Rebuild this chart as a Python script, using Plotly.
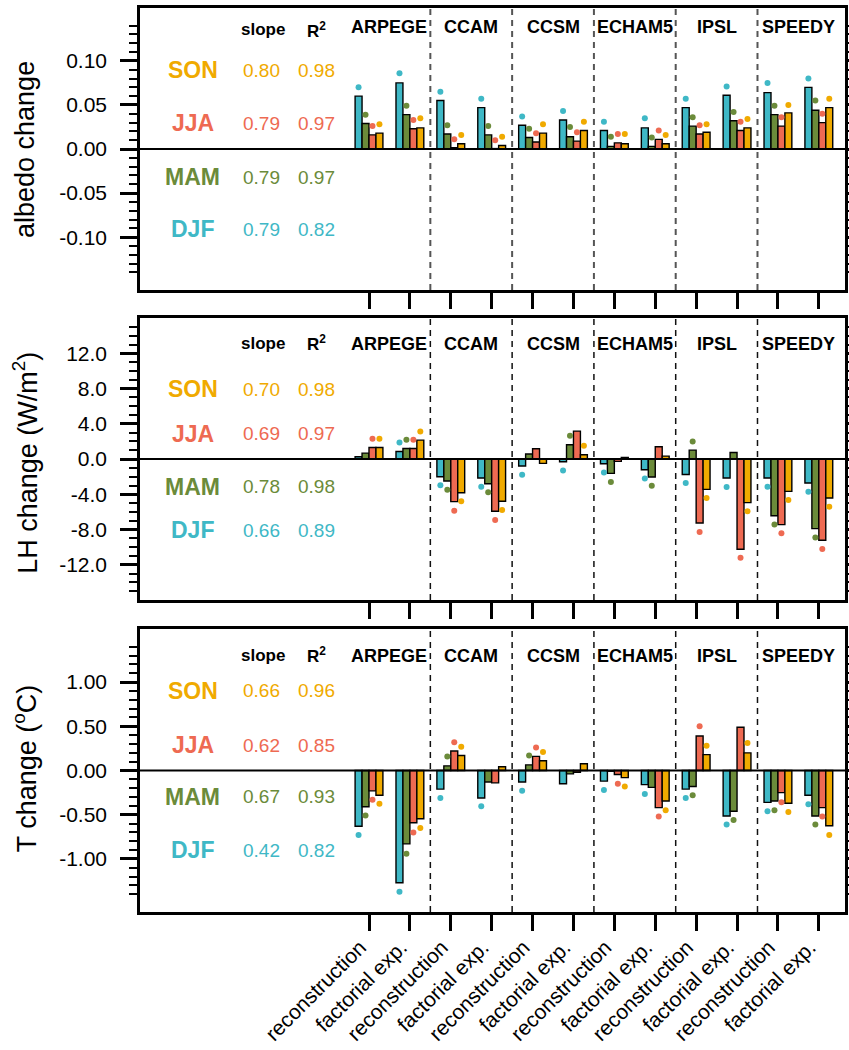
import numpy as np
import plotly.graph_objects as go

# ---------------- data ----------------
models = ["ARPEGE", "CCAM", "CCSM", "ECHAM5", "IPSL", "SPEEDY"]
exp_labels = ["reconstruction", "factorial exp."]
seasons = ["DJF", "MAM", "JJA", "SON"]
season_colors = ["#3FB8C6", "#6B8B3A", "#EE6A52", "#F0AA00"]

# order of 12 groups: ARPEGE rec, ARPEGE fac, CCAM rec, CCAM fac, ...
albedo_bars = {
    "DJF": [0.060, 0.075, 0.055, 0.047, 0.027, 0.033, 0.021, 0.024, 0.047, 0.061, 0.064, 0.070],
    "MAM": [0.029, 0.039, 0.017, 0.016, 0.013, 0.014, 0.003, 0.003, 0.026, 0.032, 0.039, 0.044],
    "JJA": [0.016, 0.023, 0.0015, 0.0005, 0.008, 0.009, 0.007, 0.011, 0.017, 0.021, 0.026, 0.030],
    "SON": [0.018, 0.024, 0.006, 0.004, 0.018, 0.021, 0.006, 0.006, 0.019, 0.024, 0.041, 0.047],
}
albedo_dots = {
    "DJF": [0.070, 0.086, 0.065, 0.057, 0.037, 0.043, 0.031, 0.035, 0.057, 0.071, 0.075, 0.080],
    "MAM": [0.039, 0.049, 0.027, 0.026, 0.023, 0.025, 0.014, 0.013, 0.036, 0.042, 0.049, 0.055],
    "JJA": [0.026, 0.033, 0.011, 0.010, 0.018, 0.019, 0.017, 0.021, 0.027, 0.031, 0.036, 0.040],
    "SON": [0.028, 0.035, 0.016, 0.014, 0.028, 0.031, 0.017, 0.016, 0.028, 0.034, 0.050, 0.057],
}
lh_bars = {
    "DJF": [0.26, 0.87, -2.00, -2.15, -0.79, -0.30, -0.53, -1.21, -1.74, -2.15, -2.15, -2.72],
    "MAM": [0.68, 1.21, -2.49, -2.79, 0.57, 1.62, -1.62, -2.04, 1.02, 0.75, -6.42, -7.89],
    "JJA": [1.32, 1.21, -4.83, -5.92, 1.17, 3.17, -0.26, 1.40, -7.25, -10.23, -7.43, -9.21],
    "SON": [1.32, 2.15, -3.81, -4.79, -0.49, 0.49, 0.19, 0.34, -3.43, -4.94, -3.66, -4.42],
}
lh_dots = {
    "DJF": [None, 1.89, -2.98, -3.13, -1.77, -1.28, -1.51, -2.19, -2.72, -3.17, -3.13, -3.70],
    "MAM": [None, 2.19, -3.47, -3.77, None, 2.64, -2.60, -3.02, 2.00, None, -7.43, -8.90],
    "JJA": [2.30, 2.19, -5.85, -6.90, None, None, None, None, -8.26, -11.20, -8.42, -10.19],
    "SON": [2.30, 3.13, -4.79, -5.77, None, 1.51, None, None, -4.42, -5.92, -4.64, -5.40],
}
t_bars = {
    "DJF": [-0.63, -1.27, -0.21, -0.31, -0.13, -0.15, -0.12, -0.16, -0.21, -0.515, -0.36, -0.28],
    "MAM": [-0.41, -0.83, 0.053, -0.13, 0.064, -0.038, -0.008, -0.19, -0.18, -0.46, -0.345, -0.515],
    "JJA": [-0.23, -0.59, 0.22, -0.14, 0.16, -0.019, -0.045, -0.42, 0.39, 0.49, -0.25, -0.42],
    "SON": [-0.28, -0.545, 0.17, 0.042, 0.11, 0.076, -0.08, -0.345, 0.18, 0.20, -0.37, -0.625],
}
t_dots = {
    "DJF": [-0.73, -1.37, -0.31, -0.405, -0.23, None, -0.22, -0.265, -0.31, -0.61, -0.46, -0.38],
    "MAM": [-0.51, -0.94, 0.16, None, 0.17, None, None, None, -0.28, -0.56, -0.45, -0.61],
    "JJA": [-0.33, -0.70, 0.32, None, 0.26, None, -0.15, -0.52, 0.50, None, -0.36, -0.52],
    "SON": [-0.375, -0.65, 0.27, None, 0.21, None, -0.18, -0.45, 0.28, 0.31, -0.47, -0.73],
}

albedo_slope = {"SON": "0.80", "JJA": "0.79", "MAM": "0.79", "DJF": "0.79"}
albedo_r2 = {"SON": "0.98", "JJA": "0.97", "MAM": "0.97", "DJF": "0.82"}
lh_slope = {"SON": "0.70", "JJA": "0.69", "MAM": "0.78", "DJF": "0.66"}
lh_r2 = {"SON": "0.98", "JJA": "0.97", "MAM": "0.98", "DJF": "0.89"}
t_slope = {"SON": "0.66", "JJA": "0.62", "MAM": "0.67", "DJF": "0.42"}
t_r2 = {"SON": "0.96", "JJA": "0.85", "MAM": "0.93", "DJF": "0.82"}

# ---------------- figure ----------------
FONT = "Liberation Sans, Arial, Helvetica, sans-serif"
n_groups = len(models) * len(exp_labels)
group_x = np.arange(n_groups)
tick_text = [exp_labels[i % 2] for i in range(n_groups)]
bar_w = 0.17

panels = [
    dict(bars=albedo_bars, dots=albedo_dots, slope=albedo_slope, r2=albedo_r2,
         title="albedo change", rng=[-0.16, 0.16], major=[-0.10, -0.05, 0.0, 0.05, 0.10],
         fmt="{:.2f}", minor=np.round(np.arange(-14, 15) * 0.01, 2).tolist(),
         domain=[0.688, 1.0], sep_color="#555555", sep_w=2.0,
         ty=dict(head=0.922, model=0.934, SON=0.78, JJA=0.592, MAM=0.40, DJF=0.216),
         title_y=0.843),
    dict(bars=lh_bars, dots=lh_dots, slope=lh_slope, r2=lh_r2,
         title="LH change (W/m<sup>2</sup>)", rng=[-16, 16], major=[-12, -8, -4, 0, 4, 8, 12],
         fmt="{:.1f}", minor=list(range(-15, 16)),
         domain=[0.345, 0.657], sep_color="#111111", sep_w=1.5,
         ty=dict(head=0.91, model=0.908, SON=0.748, JJA=0.589, MAM=0.402, DJF=0.248),
         title_y=0.497),
    dict(bars=t_bars, dots=t_dots, slope=t_slope, r2=t_r2,
         title="T change (<sup>o</sup>C)", rng=[-1.6, 1.6], major=[-1.0, -0.5, 0.0, 0.5, 1.0],
         fmt="{:.2f}", minor=np.round(np.arange(-14, 15) * 0.1, 1).tolist(),
         domain=[0.0, 0.313], sep_color="#111111", sep_w=1.5,
         ty=dict(head=0.908, model=0.905, SON=0.782, JJA=0.59, MAM=0.407, DJF=0.219),
         title_y=0.159),
]

fig = go.Figure()
annotations = []
shapes = []


def ann(**kw):
    base = dict(showarrow=False, xanchor="center", yanchor="middle")
    base.update(kw)
    annotations.append(base)


for p_i, p in enumerate(panels):
    k = "" if p_i == 0 else str(p_i + 1)
    xref, yref = "x" + k, "y" + k
    for s_i, s in enumerate(seasons):
        off = (s_i - 1.5) * bar_w
        fig.add_trace(go.Bar(
            x=group_x + off, y=p["bars"][s], width=bar_w,
            marker=dict(color=season_colors[s_i], line=dict(color="black", width=1.4)),
            xaxis=xref, yaxis=yref, showlegend=False, name=s))
    for s_i, s in enumerate(seasons):
        off = (s_i - 1.5) * bar_w
        fig.add_trace(go.Scatter(
            x=group_x + off, y=p["dots"][s], mode="markers",
            marker=dict(color=season_colors[s_i], size=6),
            xaxis=xref, yaxis=yref, showlegend=False, name=s))

    axis_common = dict(showline=True, linewidth=2.5, linecolor="black", showgrid=False,
                       zeroline=False, automargin=False)
    fig.layout["xaxis" + k] = dict(
        **axis_common, domain=[0, 1], anchor=yref, range=[-5.6, 11.64],
        tickmode="array", tickvals=group_x.tolist(), ticktext=tick_text,
        ticks="outside", ticklen=16, tickwidth=2.5, tickcolor="black",
        showticklabels=(p_i == 2), tickangle=-45,
        ticklabelshift=-9, ticklabelstandoff=-4,
        tickfont=dict(family=FONT, size=21, color="black"), mirror=True)
    fig.layout["yaxis" + k] = dict(
        **axis_common, domain=p["domain"], anchor=xref, range=p["rng"],
        tickmode="array", tickvals=p["major"], ticktext=[p["fmt"].format(v) for v in p["major"]],
        ticks="outside", ticklen=17, tickwidth=2.5, tickcolor="black",
        tickfont=dict(family=FONT, size=21, color="black"), mirror="allticks",
        ticklabelstandoff=9,
        minor=dict(tickmode="array", tickvals=p["minor"], ticks="outside",
                   ticklen=8, tickwidth=1.8, tickcolor="black"))

    # zero line
    shapes.append(dict(type="line", xref=xref + " domain", yref=yref, x0=0, x1=1, y0=0, y1=0,
                       line=dict(color="black", width=2)))
    # model separators
    for m in range(1, len(models)):
        shapes.append(dict(type="line", xref=xref, yref=yref + " domain",
                           x0=2 * m - 0.5, x1=2 * m - 0.5, y0=0, y1=1,
                           line=dict(color=p["sep_color"], width=p["sep_w"], dash="6px,5px")))
    # model names
    for m_i, m in enumerate(models):
        ann(text="<b>%s</b>" % m, x=2 * m_i + 0.5, xref=xref,
            y=p["ty"]["model"], yref=yref + " domain",
            font=dict(family=FONT, size=18, color="black"))
    # stats table
    ann(text="<b>slope</b>", x=0.175, xref=xref + " domain",
        y=p["ty"]["head"], yref=yref + " domain",
        font=dict(family=FONT, size=17, color="black"))
    ann(text="<b>R<sup>2</sup></b>", x=0.25, xref=xref + " domain",
        y=p["ty"]["head"], yref=yref + " domain",
        font=dict(family=FONT, size=17, color="black"))
    for s_i, s in enumerate(seasons):
        col = season_colors[s_i]
        yy = p["ty"][s]
        ann(text="<b>%s</b>" % s, x=0.075, xref=xref + " domain",
            y=yy, yref=yref + " domain", font=dict(family=FONT, size=23, color=col))
        ann(text=p["slope"][s], x=0.173, xref=xref + " domain",
            y=yy, yref=yref + " domain", font=dict(family=FONT, size=19, color=col))
        ann(text=p["r2"][s], x=0.25, xref=xref + " domain",
            y=yy, yref=yref + " domain", font=dict(family=FONT, size=19, color=col))
    # y title
    ann(text=p["title"], x=-0.163, xref="paper", y=p["title_y"], yref="paper",
        textangle=-90, font=dict(family=FONT, size=27, color="black"))

fig.update_layout(
    width=849, height=1050,
    margin=dict(l=140, r=4, t=8, b=138, autoexpand=False),
    paper_bgcolor="white", plot_bgcolor="white",
    barmode="overlay",
    showlegend=False,
    annotations=annotations, shapes=shapes,
    font=dict(family=FONT, color="black"),
)

fig.write_html("out.html")
